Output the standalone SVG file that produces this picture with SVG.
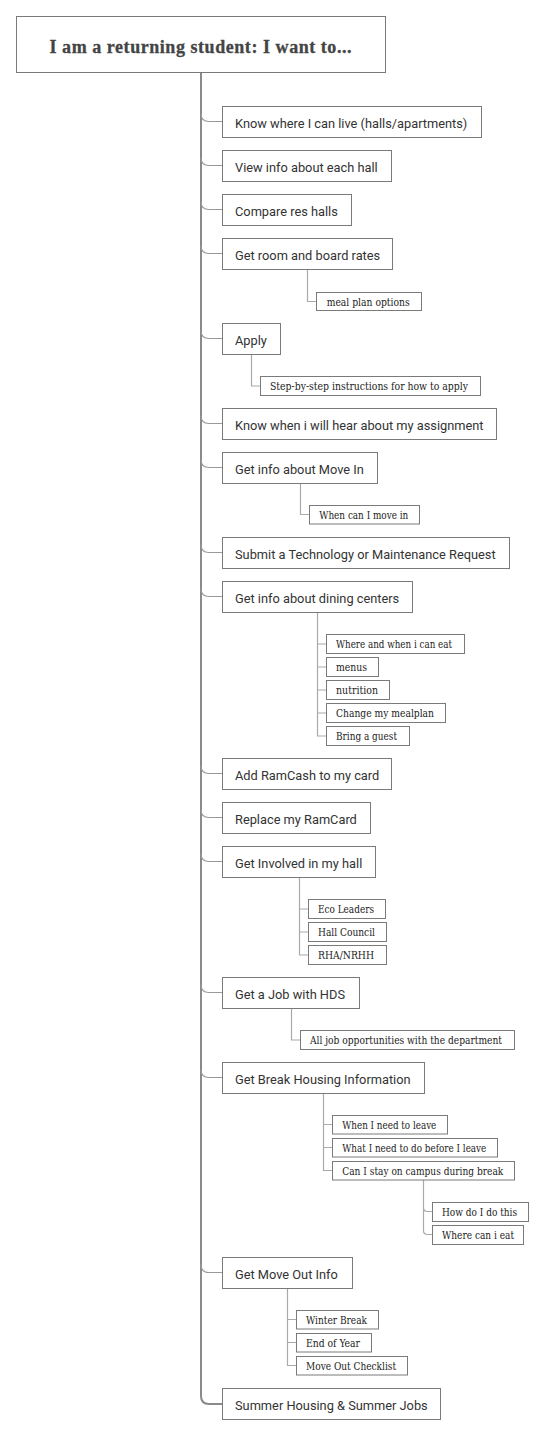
<svg xmlns="http://www.w3.org/2000/svg" width="545" height="1436" viewBox="0 0 545 1436">
<style>
.box{fill:#fff;stroke:#7a7a7a;stroke-width:1}
.t1{font-family:Roboto,"Liberation Sans",sans-serif;font-size:12.8px;fill:#333}
.t2{font-family:"DejaVu Serif","Liberation Serif",serif;font-stretch:condensed;font-size:10.5px;fill:#222}
.title{font-family:"Liberation Serif",serif;font-size:18px;font-weight:bold;fill:#444;stroke:#444;stroke-width:0.3}
.sp{fill:none;stroke:#8a8a8a;stroke-width:2}
.c1{fill:none;stroke:#999;stroke-width:1.2}
.c2{fill:none;stroke:#aaa;stroke-width:1.2}
</style>
<rect width="545" height="1436" fill="#fff"/>
<g id="connectors">
<path class="sp" d="M201 72 V1396 Q201 1404 209 1404 H222"/>
<path class="c1" d="M201 113.5 Q201 121.5 209 121.5 H222"/>
<path class="c1" d="M201 157.5 Q201 165.5 209 165.5 H222"/>
<path class="c1" d="M201 201.5 Q201 209.5 209 209.5 H222"/>
<path class="c1" d="M201 245.5 Q201 253.5 209 253.5 H222"/>
<path class="c1" d="M201 330.5 Q201 338.5 209 338.5 H222"/>
<path class="c1" d="M201 415.5 Q201 423.5 209 423.5 H222"/>
<path class="c1" d="M201 459.5 Q201 467.5 209 467.5 H222"/>
<path class="c1" d="M201 544.5 Q201 552.5 209 552.5 H222"/>
<path class="c1" d="M201 588.5 Q201 596.5 209 596.5 H222"/>
<path class="c1" d="M201 765.5 Q201 773.5 209 773.5 H222"/>
<path class="c1" d="M201 809.5 Q201 817.5 209 817.5 H222"/>
<path class="c1" d="M201 853.5 Q201 861.5 209 861.5 H222"/>
<path class="c1" d="M201 984.5 Q201 992.5 209 992.5 H222"/>
<path class="c1" d="M201 1069.5 Q201 1077.5 209 1077.5 H222"/>
<path class="c1" d="M201 1264.5 Q201 1272.5 209 1272.5 H222"/>
<path class="c2" d="M307.5 269 V301.5 H316"/>
<path class="c2" d="M251.5 354 V386 H260"/>
<path class="c2" d="M300.5 483 V514.5 H309"/>
<path class="c2" d="M317.5 612 V736 H326 M317.5 644 H326 M317.5 667 H326 M317.5 690 H326 M317.5 713 H326"/>
<path class="c2" d="M299.5 877 V955 H308 M299.5 909 H308 M299.5 932 H308"/>
<path class="c2" d="M291.5 1008 V1040 H300"/>
<path class="c2" d="M323.5 1093 V1170.5 H332 M323.5 1124.5 H332 M323.5 1147.5 H332"/>
<path class="c2" d="M423.5 1180 V1207.5 Q423.5 1211.5 427.5 1211.5 H432 M423.5 1207.5 V1230.5 Q423.5 1234.5 427.5 1234.5 H432"/>
<path class="c2" d="M287.5 1288 V1365.5 H296 M287.5 1319.5 H296 M287.5 1342.5 H296"/>
</g>
<g id="root">
<rect class="box" x="16.5" y="16.5" width="369" height="56"/>
<text class="title" x="200.5" y="52.5" text-anchor="middle" textLength="302">I am a returning student: I want to...</text>
</g>
<g id="n1"><rect class="box" x="222.5" y="106.5" width="259" height="31"/><text class="t1" x="235" y="127.5">Know where I can live (halls/apartments)</text></g>
<g id="n2"><rect class="box" x="222.5" y="150.5" width="169" height="31"/><text class="t1" x="235" y="171.5">View info about each hall</text></g>
<g id="n3"><rect class="box" x="222.5" y="194.5" width="129" height="31"/><text class="t1" x="235" y="215.5">Compare res halls</text></g>
<g id="n4"><rect class="box" x="222.5" y="238.5" width="170" height="31"/><text class="t1" x="235" y="259.5">Get room and board rates</text></g>
<g id="n4a"><rect class="box" x="316.5" y="292.5" width="105" height="18"/><text class="t2" x="326.7" y="305.5" textLength="83" lengthAdjust="spacingAndGlyphs">meal plan options</text></g>
<g id="n5"><rect class="box" x="222.5" y="323.5" width="58" height="31"/><text class="t1" x="235" y="344.5">Apply</text></g>
<g id="n5a"><rect class="box" x="260.5" y="376.5" width="220" height="19"/><text class="t2" x="270" y="390" textLength="198" lengthAdjust="spacingAndGlyphs">Step-by-step instructions for how to apply</text></g>
<g id="n6"><rect class="box" x="222.5" y="408.5" width="274" height="31"/><text class="t1" x="235" y="429.5">Know when i will hear about my assignment</text></g>
<g id="n7"><rect class="box" x="222.5" y="452.5" width="155" height="31"/><text class="t1" x="235" y="473.5">Get info about Move In</text></g>
<g id="n7a"><rect class="box" x="309.5" y="505.5" width="110" height="18.5"/><text class="t2" x="319.3" y="518.5" textLength="89" lengthAdjust="spacingAndGlyphs">When can I move in</text></g>
<g id="n8"><rect class="box" x="222.5" y="537.5" width="287" height="31"/><text class="t1" x="235" y="558.5">Submit a Technology or Maintenance Request</text></g>
<g id="n9"><rect class="box" x="222.5" y="581.5" width="190" height="31"/><text class="t1" x="235" y="602.5">Get info about dining centers</text></g>
<g id="n9a"><rect class="box" x="326.5" y="634.5" width="138" height="19"/><text class="t2" x="336" y="648" textLength="116" lengthAdjust="spacingAndGlyphs">Where and when i can eat</text></g>
<g id="n9b"><rect class="box" x="326.5" y="657.5" width="52" height="19"/><text class="t2" x="336" y="671" textLength="31" lengthAdjust="spacingAndGlyphs">menus</text></g>
<g id="n9c"><rect class="box" x="326.5" y="680.5" width="63" height="19"/><text class="t2" x="336" y="694" textLength="42" lengthAdjust="spacingAndGlyphs">nutrition</text></g>
<g id="n9d"><rect class="box" x="326.5" y="703.5" width="119" height="19"/><text class="t2" x="336" y="717" textLength="98" lengthAdjust="spacingAndGlyphs">Change my mealplan</text></g>
<g id="n9e"><rect class="box" x="326.5" y="726.5" width="83" height="19"/><text class="t2" x="336" y="740" textLength="61" lengthAdjust="spacingAndGlyphs">Bring a guest</text></g>
<g id="n10"><rect class="box" x="222.5" y="758.5" width="169" height="31"/><text class="t1" x="235" y="779.5">Add RamCash to my card</text></g>
<g id="n11"><rect class="box" x="222.5" y="802.5" width="148" height="31"/><text class="t1" x="235" y="823.5">Replace my RamCard</text></g>
<g id="n12"><rect class="box" x="222.5" y="846.5" width="153" height="31"/><text class="t1" x="235" y="867.5">Get Involved in my hall</text></g>
<g id="n12a"><rect class="box" x="308.5" y="899.5" width="77" height="19"/><text class="t2" x="318" y="913" textLength="56" lengthAdjust="spacingAndGlyphs">Eco Leaders</text></g>
<g id="n12b"><rect class="box" x="308.5" y="922.5" width="78" height="19"/><text class="t2" x="318" y="936" textLength="57" lengthAdjust="spacingAndGlyphs">Hall Council</text></g>
<g id="n12c"><rect class="box" x="308.5" y="945.5" width="78" height="19"/><text class="t2" x="318" y="959" textLength="56" lengthAdjust="spacingAndGlyphs">RHA/NRHH</text></g>
<g id="n13"><rect class="box" x="222.5" y="977.5" width="137" height="31"/><text class="t1" x="235" y="998.5">Get a Job with HDS</text></g>
<g id="n13a"><rect class="box" x="300.5" y="1030.5" width="214" height="19"/><text class="t2" x="310" y="1044" textLength="192" lengthAdjust="spacingAndGlyphs">All job opportunities with the department</text></g>
<g id="n14"><rect class="box" x="222.5" y="1062.5" width="202" height="31"/><text class="t1" x="235" y="1083.5">Get Break Housing Information</text></g>
<g id="n14a"><rect class="box" x="332.5" y="1115.5" width="115" height="18.5"/><text class="t2" x="342.3" y="1128.5" textLength="94" lengthAdjust="spacingAndGlyphs">When I need to leave</text></g>
<g id="n14b"><rect class="box" x="332.5" y="1138.5" width="165" height="18.5"/><text class="t2" x="342.3" y="1151.5" textLength="144" lengthAdjust="spacingAndGlyphs">What I need to do before I leave</text></g>
<g id="n14c"><rect class="box" x="332.5" y="1161.5" width="182" height="18.5"/><text class="t2" x="342.3" y="1174.5" textLength="161" lengthAdjust="spacingAndGlyphs">Can I stay on campus during break</text></g>
<g id="n14c1"><rect class="box" x="432.5" y="1202.5" width="96" height="19"/><text class="t2" x="442" y="1216" textLength="75" lengthAdjust="spacingAndGlyphs">How do I do this</text></g>
<g id="n14c2"><rect class="box" x="432.5" y="1225.5" width="91" height="19"/><text class="t2" x="442" y="1239" textLength="72" lengthAdjust="spacingAndGlyphs">Where can i eat</text></g>
<g id="n15"><rect class="box" x="222.5" y="1257.5" width="130" height="31"/><text class="t1" x="235" y="1278.5">Get Move Out Info</text></g>
<g id="n15a"><rect class="box" x="296.5" y="1310.5" width="82" height="18.5"/><text class="t2" x="306" y="1323.5" textLength="61" lengthAdjust="spacingAndGlyphs">Winter Break</text></g>
<g id="n15b"><rect class="box" x="296.5" y="1333.5" width="75" height="18.5"/><text class="t2" x="306" y="1346.5" textLength="54" lengthAdjust="spacingAndGlyphs">End of Year</text></g>
<g id="n15c"><rect class="box" x="296.5" y="1356.5" width="111" height="18.5"/><text class="t2" x="306" y="1369.5" textLength="90" lengthAdjust="spacingAndGlyphs">Move Out Checklist</text></g>
<g id="n16"><rect class="box" x="222.5" y="1388.5" width="218" height="31"/><text class="t1" x="235" y="1409.5">Summer Housing &amp; Summer Jobs</text></g>
</svg>
